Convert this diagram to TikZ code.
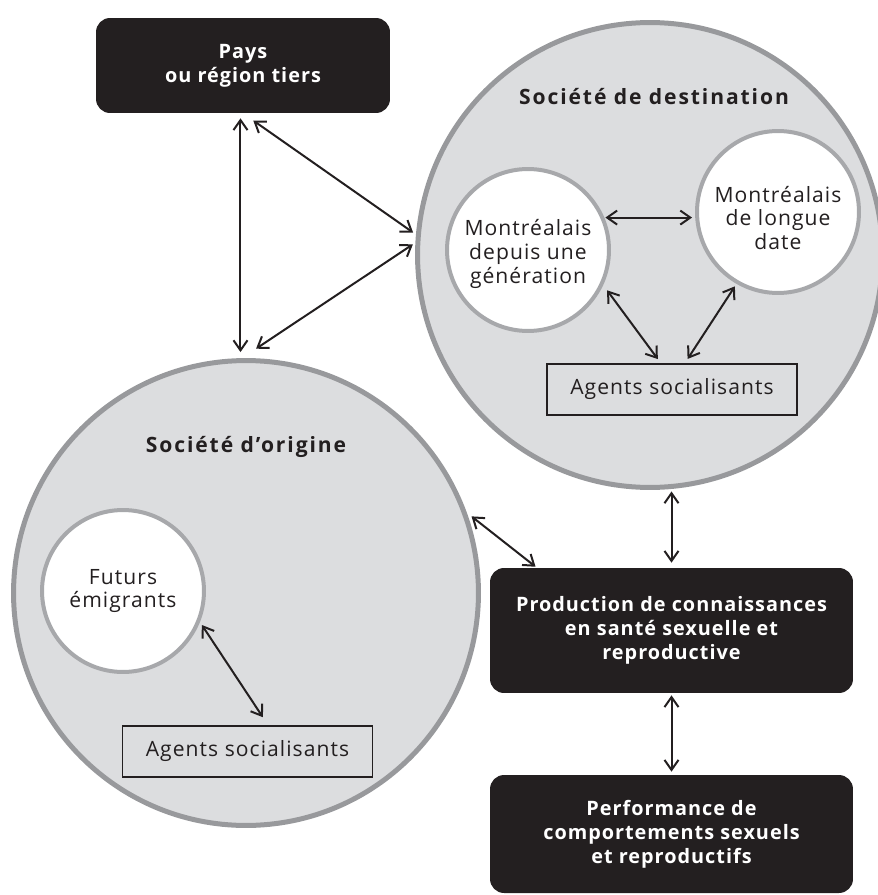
\documentclass[tikz,border=0pt]{standalone}
\usepackage{fontspec}
\setmainfont{Open Sans}[LetterSpace=5.0]
\newfontfamily\titlefont{Open Sans}[LetterSpace=9.0]
\usetikzlibrary{arrows.meta}

\definecolor{discgray}{RGB}{220,221,223}
\definecolor{ringgray}{RGB}{152,153,156}
\definecolor{innergray}{RGB}{167,168,171}
\definecolor{inkblack}{RGB}{35,31,32}

\tikzset{
  society/.style={circle, draw=ringgray, line width=0.1cm, fill=discgray, minimum size=9.3cm, inner sep=0pt},
  group/.style={circle, draw=innergray, line width=0.08cm, fill=white, minimum size=3.24cm, inner sep=0pt, align=center, text=inkblack},
  agentbox/.style={draw=inkblack, line width=0.035cm, minimum width=5cm, minimum height=1.02cm, inner sep=0pt, text=inkblack},
  darkbox/.style={fill=inkblack, rounded corners=0.28cm, text=white, font=\fontsize{11.3}{13.6}\selectfont\bfseries, align=center, minimum width=7.26cm, inner sep=0pt},
  title/.style={font=\fontsize{12}{13.6}\selectfont\titlefont\bfseries, text=inkblack},
  link/.style={{Straight Barb[length=0.2cm, width=0.28cm]}-{Straight Barb[length=0.2cm, width=0.28cm]}, line width=0.04cm, draw=inkblack}
}

\begin{document}
\begin{tikzpicture}[x=0.02cm, y=-0.02cm, font=\fontsize{12}{13.6}\selectfont]
  \useasboundingbox (0,0) rectangle (878,895);

  % The two societies
  \node[society] (dest) at (650,255) {};
  \node[society] (origin) at (246,593) {};
  \node[title] (desttitle) at (654,97) {Société de destination};
  \node[title] (origintitle) at (246,447) {Société d’origine};

  % Groups of people
  \node[group] (gen) at (528,250) {};
  \node[text=inkblack, align=center] (gentext) at (528,254) {Montréalais\\depuis une\\génération};
  \node[group] (longue) at (778,212) {};
  \node[text=inkblack, align=center] (longuetext) at (778,218) {Montréalais\\de longue\\date};
  \node[group] (futurs) at (123,591) {Futurs\\émigrants};

  % Socialising agents
  \node[agentbox] (agentsdest) at (672,389.5) {Agents socialisants};
  \node[agentbox] (agentsorig) at (247.5,751.5) {Agents socialisants};

  % Dark boxes
  \node[darkbox, minimum width=5.88cm, minimum height=1.9cm] (pays) at (243,65.5) {Pays\\ou région tiers};
  \node[darkbox, minimum height=2.5cm] (prod) at (671.5,630.5) {Production de connaissances\\en santé sexuelle et\\reproductive};
  \node[darkbox, minimum height=2.36cm] (perf) at (671.5,834) {Performance de\\comportements sexuels\\et reproductifs};

  % Links around the third country
  \draw[link, shorten <=0.1cm, shorten >=0.12cm] (pays.-93) -- (pays.-93 |- origin.north);
  \draw[link, shorten <=0.25cm, shorten >=0.07cm] (pays.south) -- (dest.175);
  \draw[link, shorten <=0.34cm, shorten >=0.06cm] (origin.91) -- (dest.177);

  % Links inside the destination society
  \draw[link, shorten <=0.02cm, shorten >=0.06cm] (gen.23) -- (gen.23 -| longue.west);
  \draw[link, shorten <=0.13cm, shorten >=0.1cm] (gen.-25) -- (agentsdest.113);
  \draw[link, shorten <=0.06cm, shorten >=0.1cm] (longue.240) -- (agentsdest.64);

  % Links inside the society of origin
  \draw[link, shorten <=0.07cm, shorten >=0.19cm] (futurs.-22) -- (agentsorig.52);

  % Links to the production of knowledge
  \draw[link, shorten <=0.03cm, shorten >=0.1cm] (dest.south -| prod.north) -- (prod.north);
  \draw[link, shorten <=0.12cm, shorten >=0.03cm] (origin.20) -- (prod.155);
  \draw[link, shorten <=0.04cm, shorten >=0.06cm] (prod.south) -- (perf.north);
\end{tikzpicture}
\end{document}
